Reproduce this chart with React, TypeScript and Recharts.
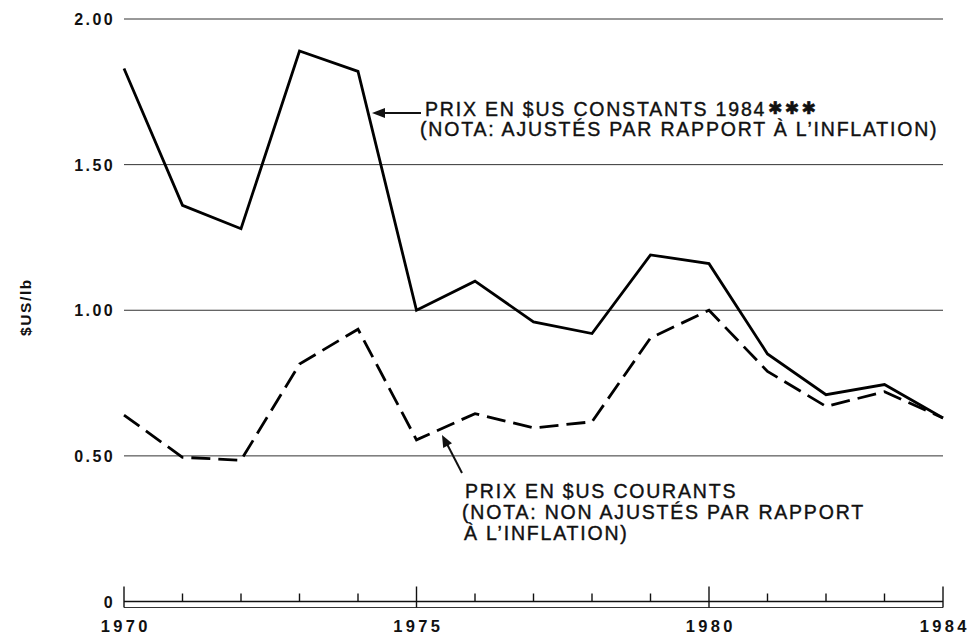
import React from "react";
import { LineChart, Line, XAxis, YAxis, CartesianGrid } from "recharts";

const years = [1970, 1971, 1972, 1973, 1974, 1975, 1976, 1977, 1978, 1979, 1980, 1981, 1982, 1983, 1984];
const constantPrices = [1.83, 1.36, 1.28, 1.89, 1.82, 1.0, 1.1, 0.96, 0.92, 1.19, 1.16, 0.85, 0.71, 0.745, 0.63];
const currentPrices = [0.64, 0.495, 0.485, 0.815, 0.935, 0.555, 0.645, 0.596, 0.617, 0.905, 1.0, 0.79, 0.67, 0.72, 0.63];
const yTicks = [0, 0.5, 1, 1.5, 2];
const majorYears = [1970, 1975, 1980, 1984];

const data = years.map((y, i) => ({ year: y, constant: constantPrices[i], current: currentPrices[i] }));

const FONT = "'Liberation Sans', Arial, Helvetica, sans-serif";

function XTick(props: any) {
  const { x, y, payload } = props;
  const v = payload.value as number;
  const major = majorYears.includes(v);
  return (
    <g>
      <line x1={x} x2={x} y1={major ? y - 15 : y - 8} y2={major ? y + 6 : y} stroke="#111" strokeWidth={1.4} />
      {major && (
        <text x={x + 1.75} y={y + 30} textAnchor="middle" fontFamily={FONT} fontWeight="bold" fontSize={16.5} letterSpacing={3.3} fill="#111">
          {String(v)}
        </text>
      )}
    </g>
  );
}

function YTick(props: any) {
  const { x, y, payload } = props;
  const v = payload.value as number;
  const label = v === 0 ? "0" : v.toFixed(2);
  return (
    <text x={x - 9} y={y + 6} textAnchor="end" fontFamily={FONT} fontWeight="bold" fontSize={16} letterSpacing={2.4} fill="#111">
      {label}
    </text>
  );
}

export default function App() {
  return (
    <div style={{ position: "absolute", left: 0, top: 0, width: 972, height: 635, background: "#fff" }}>
      <LineChart width={972} height={635} data={data} margin={{ top: 19, right: 29, left: 0, bottom: 0 }}>
        <CartesianGrid horizontal vertical={false} stroke="#333" strokeWidth={1} />
        <XAxis
          dataKey="year"
          type="number"
          domain={[1970, 1984]}
          ticks={years}
          height={6}
          tickSize={0}
          tickMargin={0}
          tickLine={false}
          axisLine={{ stroke: "#111", strokeWidth: 1.5 }}
          tick={<XTick />}
          interval={0}
        />
        <XAxis
          xAxisId="b"
          dataKey="year"
          type="number"
          domain={[1970, 1984]}
          height={27.5}
          tick={false}
          tickLine={false}
          axisLine={{ stroke: "#333", strokeWidth: 1.2 }}
        />
        <YAxis
          type="number"
          domain={[0, 2]}
          ticks={yTicks}
          width={124}
          tickSize={0}
          tickMargin={0}
          axisLine={false}
          tickLine={false}
          tick={<YTick />}
          interval={0}
        />
        <Line type="linear" dataKey="constant" stroke="#000" strokeWidth={2.8} dot={false} isAnimationActive={false} strokeLinejoin="miter" />
        <Line type="linear" dataKey="current" stroke="#000" strokeWidth={2.8} strokeDasharray="19 8" dot={false} isAnimationActive={false} strokeLinejoin="miter" />
      </LineChart>
      <svg width={972} height={635} style={{ position: "absolute", left: 0, top: 0, pointerEvents: "none" }}>
        <text transform="translate(31,307) rotate(-90)" textAnchor="middle" fontFamily={FONT} fontWeight="bold" fontSize={15.5} letterSpacing={1.6} fill="#111">
          $US/lb
        </text>
        <g fontFamily={FONT} fontSize={19.5} letterSpacing={1.8} fill="#111" stroke="#111" strokeWidth={0.4}>
          <text x={425} y={116}>PRIX EN $US CONSTANTS 1984</text>
          <text x={420} y={136}>(NOTA: AJUSTÉS PAR RAPPORT À L’INFLATION)</text>
          <text x={465} y={498}>PRIX EN $US COURANTS</text>
          <text x={462} y={519}>(NOTA: NON AJUSTÉS PAR RAPPORT</text>
          <text x={464} y={540}>À L’INFLATION)</text>
        </g>
        <text x={768} y={114} fontFamily="'DejaVu Sans', sans-serif" fontSize={17} letterSpacing={2.5} fill="#111" stroke="#111" strokeWidth={0.6}>
          ✱✱✱
        </text>
        <line x1={421} y1={113} x2={382} y2={113} stroke="#111" strokeWidth={2} />
        <polygon points="372,113 385,108 385,118" fill="#111" />
        <line x1={462} y1={473} x2={447} y2={444} stroke="#111" strokeWidth={2} />
        <polygon points="442,435 452,443.3 443.2,447.9" fill="#111" />
      </svg>
    </div>
  );
}
